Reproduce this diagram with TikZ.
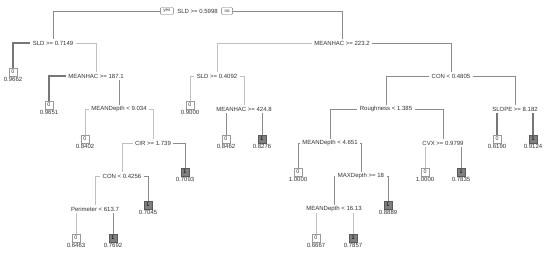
\documentclass[tikz,border=0pt]{standalone}
\usepackage{fontspec}
\setmainfont{Liberation Sans}
\usepackage{xcolor}
\usepackage{tikz}
\usetikzlibrary{positioning,backgrounds}
\definecolor{txt}{HTML}{333333}
\definecolor{branch}{HTML}{8c8c8c}
\definecolor{boxline}{HTML}{9a9a9a}
\definecolor{onefill}{HTML}{7f7f7f}
\definecolor{oneline}{HTML}{5a5a5a}

\begin{document}
\begin{tikzpicture}[
    x=1pt, y=-1pt,
    splitnode/.style={
        rectangle, fill=white, text=txt, inner xsep=2.5pt, inner ysep=1.5pt,
        font=\fontsize{6}{7}\selectfont,
    },
    yesno/.style={
        rectangle, draw=txt!70, fill=white, text=txt, rounded corners=1pt,
        inner xsep=3pt, inner ysep=1.2pt, minimum height=7pt,
        font=\fontsize{4.5}{5}\selectfont, line width=0.4pt,
    },
    leafval/.style={text=txt, inner sep=0.8pt, font=\fontsize{6}{7}\selectfont},
    leafzero/.style={
        rectangle, draw=boxline, fill=white, text=txt,
        minimum width=8pt, minimum height=8.5pt, inner sep=0pt,
        font=\fontsize{5.4}{6}\selectfont, line width=0.5pt,
        label distance=1.4pt,
    },
    leafone/.style={
        rectangle, draw=oneline, fill=onefill, text=black,
        minimum width=8pt, minimum height=8.5pt, inner sep=0pt,
        font=\fontsize{5.4}{6}\selectfont, line width=0.5pt,
        label distance=1.4pt,
    },
    lightedge/.style={draw=branch!55, line width=0.5pt},
    midedge/.style={draw=branch, line width=0.8pt},
    heavyedge/.style={draw=branch!85!black, line width=1.2pt},
]
\useasboundingbox (0,0) rectangle (550,258);

% Splits
\node[splitnode] (root) at (197.5,11) {SLD >= 0.5998};
\node[yesno, left=1pt of root] (yes) {yes};
\node[yesno, right=1pt of root] (no) {no};

\node[splitnode] (sldA) at (53,43) {SLD >= 0.7149};
\node[splitnode] (mhA) at (342,43) {MEANHAC >= 223.2};

\node[splitnode] (mhB) at (96,76) {MEANHAC >= 187.1};
\node[splitnode] (sldB) at (217,76) {SLD >= 0.4092};
\node[splitnode] (conA) at (451,76) {CON < 0.4805};

\node[splitnode] (mdA) at (119,109) {MEANDepth < 9.034};
\node[splitnode] (mhC) at (244,109) {MEANHAC >= 424.8};
\node[splitnode] (rough) at (386,109) {Roughness < 1.385};
\node[splitnode] (slope) at (515,109) {SLOPE >= 8.182};

\node[splitnode] (cir) at (153,143) {CIR >= 1.739};
\node[splitnode] (mdB) at (330,143) {MEANDepth < 4.651};
\node[splitnode] (cvx) at (443,143) {CVX >= 0.9799};

\node[splitnode] (conB) at (122,176) {CON < 0.4256};
\node[splitnode] (maxd) at (361,176) {MAXDepth >= 18};

\node[splitnode] (perim) at (95,209) {Perimeter < 613.7};
\node[splitnode] (mdC) at (334,209) {MEANDepth < 16.13};

% Leaves
\node[leafzero, label={[leafval]below:0.9662}] (lfA) at (13,72) {0};
\node[leafzero, label={[leafval]below:0.9651}] (lfB) at (49,105) {0};
\node[leafzero, label={[leafval]below:0.9000}] (lfC) at (190,105) {0};
\node[leafzero, label={[leafval]below:0.8402}] (lfD) at (85,139) {0};
\node[leafzero, label={[leafval]below:0.8462}] (lfE) at (226,139) {0};
\node[leafone, label={[leafval]below:0.8276}] (lfF) at (262,139) {1};
\node[leafzero, label={[leafval]below:0.6190}] (lfG) at (497,139) {0};
\node[leafone, label={[leafval]below:0.9124}] (lfH) at (533,139) {1};
\node[leafone, label={[leafval]below:0.7093}] (lfI) at (185,172) {1};
\node[leafzero, label={[leafval]below:1.0000}] (lfJ) at (298,172) {0};
\node[leafzero, label={[leafval]below:1.0000}] (lfK) at (425,172) {0};
\node[leafone, label={[leafval]below:0.7835}] (lfL) at (461,172) {1};
\node[leafone, label={[leafval]below:0.7045}] (lfM) at (148,205) {1};
\node[leafone, label={[leafval]below:0.8889}] (lfN) at (388,205) {1};
\node[leafzero, label={[leafval]below:0.6463}] (lfO) at (76,238) {0};
\node[leafone, label={[leafval]below:0.7692}] (lfP) at (113,238) {1};
\node[leafzero, label={[leafval]below:0.6667}] (lfQ) at (316,238) {0};
\node[leafone, label={[leafval]below:0.7857}] (lfR) at (353,238) {1};

% Branches, behind the white split labels
\begin{scope}[on background layer]
\draw[midedge] (yes.center) -| (sldA.north);
\draw[midedge] (no.center) -| (mhA.north);

\draw[heavyedge] (sldA.center) -| (lfA.north);
\draw[lightedge] (sldA.center) -| (mhB.north);
\draw[lightedge] (mhA.center) -| (sldB.north);
\draw[midedge] (mhA.center) -| (conA.north);

\draw[heavyedge] (mhB.center) -| (lfB.north);
\draw[midedge] (mhB.center) -| (mdA.north);
\draw[lightedge] (sldB.center) -| (lfC.north);
\draw[lightedge] (sldB.center) -| (mhC.north);
\draw[midedge] (conA.center) -| (rough.north);
\draw[midedge] (conA.center) -| (slope.north);

\draw[lightedge] (mdA.center) -| (lfD.north);
\draw[lightedge] (mdA.center) -| (cir.north);
\draw[midedge] (mhC.center) -| (lfE.north);
\draw[midedge] (mhC.center) -| (lfF.north);
\draw[midedge] (rough.center) -| (mdB.north);
\draw[midedge] (rough.center) -| (cvx.north);
\draw[heavyedge] (slope.center) -| (lfG.north);
\draw[heavyedge] (slope.center) -| (lfH.north);

\draw[lightedge] (cir.center) -| (conB.north);
\draw[midedge] (cir.center) -| (lfI.north);
\draw[midedge] (mdB.center) -| (lfJ.north);
\draw[midedge] (mdB.center) -| (maxd.north);
\draw[lightedge] (cvx.center) -| (lfK.north);
\draw[midedge] (cvx.center) -| (lfL.north);

\draw[lightedge] (conB.center) -| (perim.north);
\draw[midedge] (conB.center) -| (lfM.north);
\draw[midedge] (maxd.center) -| (mdC.north);
\draw[midedge] (maxd.center) -| (lfN.north);

\draw[lightedge] (perim.center) -| (lfO.north);
\draw[midedge] (perim.center) -| (lfP.north);
\draw[lightedge] (mdC.center) -| (lfQ.north);
\draw[lightedge] (mdC.center) -| (lfR.north);
\end{scope}

\end{tikzpicture}
\end{document}
